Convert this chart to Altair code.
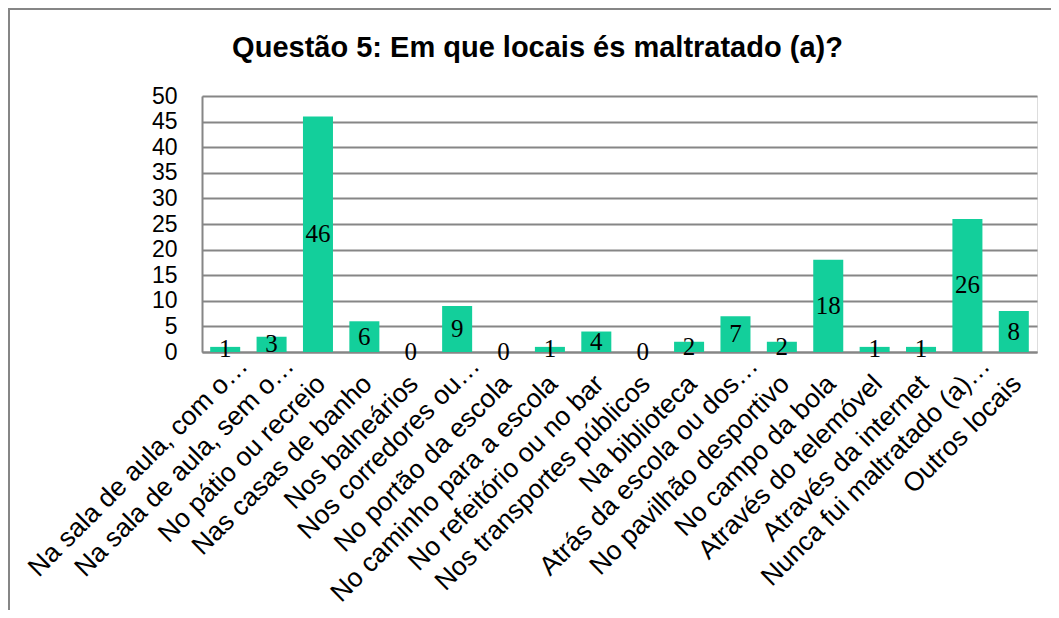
import altair as alt
import pandas as pd

categories = [
    "Na sala de aula, com o…",
    "Na sala de aula, sem o…",
    "No pátio ou recreio",
    "Nas casas de banho",
    "Nos balneários",
    "Nos corredores ou…",
    "No portão da escola",
    "No caminho para a escola",
    "No refeitório ou no bar",
    "Nos transportes públicos",
    "Na biblioteca",
    "Atrás da escola ou dos…",
    "No pavilhão desportivo",
    "No campo da bola",
    "Através do telemóvel",
    "Através da internet",
    "Nunca fui maltratado (a)…",
    "Outros locais",
]
values = [1, 3, 46, 6, 0, 9, 0, 1, 4, 0, 2, 7, 2, 18, 1, 1, 26, 8]
y_ticks = [0, 5, 10, 15, 20, 25, 30, 35, 40, 45, 50]
title_text = "Questão 5: Em que locais és maltratado (a)?"

df = pd.DataFrame({"cat": categories, "val": values})

GRAY = "#868686"
GREEN = "#13CF9B"
ELLIPSIS_TEST = "indexof(datum.value, '…') >= 0"

xscale = alt.Scale(paddingInner=0.353, paddingOuter=0.1765)
yscale = alt.Scale(domain=[0, 50], nice=False)

xaxis = alt.Axis(
    title=None,
    labelAngle=-45,
    labelAlign="right",
    labelBaseline="alphabetic",
    labelFont="Liberation Sans",
    labelFontSize=26.5,
    labelColor="#000000",
    labelLimit=600,
    labelPadding={"condition": {"test": ELLIPSIS_TEST, "value": 15}, "value": 33},
    labelOffset={"condition": {"test": ELLIPSIS_TEST, "value": 24}, "value": 9},
    labelOverlap=False,
    ticks=False,
    tickSize=0,
    domainColor=GRAY,
    domainWidth=2,
    grid=False,
)
yaxis = alt.Axis(
    title=None,
    values=y_ticks,
    tickCount=50,
    labelOverlap=False,
    labelFont="Liberation Sans",
    labelFontSize=23,
    labelColor="#000000",
    labelPadding=25,
    ticks=False,
    tickSize=0,
    domainColor=GRAY,
    domainWidth=2,
    gridColor=GRAY,
    gridWidth=2,
    gridOpacity=1,
)

bars = alt.Chart(df).mark_bar(color=GREEN).encode(
    x=alt.X("cat:N", sort=categories, scale=xscale, axis=xaxis),
    y=alt.Y("val:Q", scale=yscale, axis=yaxis),
)

labels = alt.Chart(df).transform_calculate(mid="datum.val / 2").mark_text(
    font="Liberation Serif", fontSize=25, color="#000000", baseline="middle", align="center"
).encode(
    x=alt.X("cat:N", sort=categories, scale=xscale, axis=xaxis),
    y=alt.Y("mid:Q", scale=yscale, axis=yaxis),
    text=alt.Text("val:Q"),
)

one_row = alt.Data(values=[{"k": 1}])
title_mark = alt.Chart(one_row).mark_text(
    text=title_text,
    font="Liberation Sans",
    fontSize=29,
    fontWeight="bold",
    color="#000000",
    align="center",
    baseline="alphabetic",
).encode(x=alt.value(335.5), y=alt.value(-39))

top_line = alt.Chart(one_row).mark_rule(color=GRAY, strokeWidth=2).encode(
    x=alt.value(-194), x2=alt.value(900), y=alt.value(-87)
)
left_line = alt.Chart(one_row).mark_rule(color=GRAY, strokeWidth=2).encode(
    x=alt.value(-193), y=alt.value(-88), y2=alt.value(600)
)

chart = alt.layer(bars, labels, title_mark, top_line, left_line).properties(
    width=835,
    height=256,
    autosize=alt.AutoSizeParams(type="none"),
    padding={"left": 194, "top": 88, "right": 14, "bottom": 258},
).configure_view(stroke=None).configure(background="white")

chart.save("out.html", embed_options={"renderer": "svg", "actions": False})
